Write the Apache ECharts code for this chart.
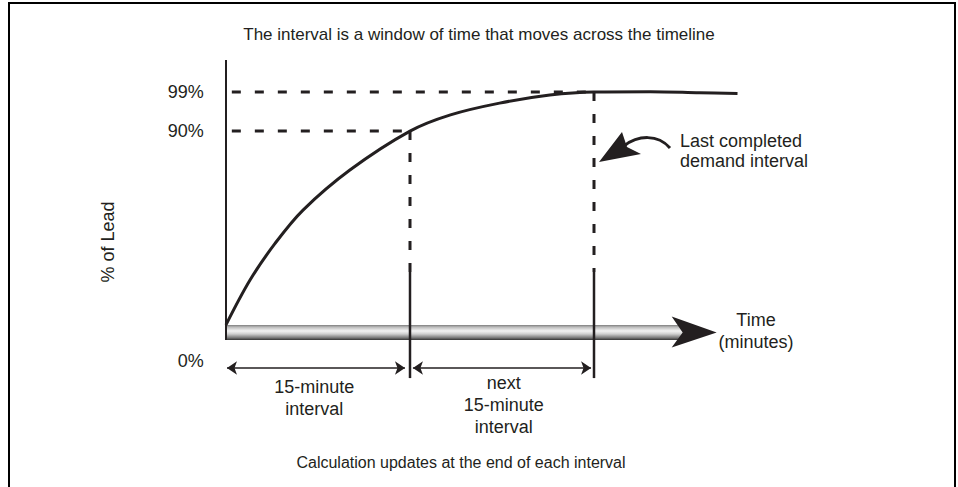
<!DOCTYPE html>
<html><head><meta charset="utf-8">
<script src="https://cdn.jsdelivr.net/npm/echarts@6/dist/echarts.min.js"></script>
<style>html,body{margin:0;padding:0;background:#fff}#c{width:958px;height:487px}</style>
</head><body><div id="c"></div>
<script>
// ---------------- data ----------------
const titleText = 'The interval is a window of time that moves across the timeline';
const footText = 'Calculation updates at the end of each interval';
const yAxisName = '% of Lead';
const xAxisName = 'Time\n(minutes)';
const noteText = 'Last completed\ndemand interval';

// curve: minutes vs drawn level (schematic height: 0 = bottom of time bar, 100 = top of axis)
const curveMinutes = [0, 1.96, 4.0, 6.28, 10.1, 15, 18.3, 22.3, 26.4, 30, 34.6, 38.6, 41.7];
const curveLevel   = [5.4, 21.4, 34.5, 46.4, 60.7, 74.6, 80.4, 84.6, 87.5, 88.6, 88.7, 88.3, 88.0];

// reference levels on the vertical axis
const refLabels  = ['99%', '90%'];
const refLevel   = [88.6, 74.6];
const refMinutes = [29.7, 14.7];
const guideStart = -1.4;
const zeroLabel  = '0%';
const zeroLevel  = -7.5;

// time bar (arrow)
const barStart = 0, barTip = 40, barLow = 0, barHigh = 5.4;

// interval boundaries
const boundaryMinutes   = [15, 30];
const boundaryDashTop   = [74.6, 88.6];
const boundaryDashBottom = 24.3;
const boundarySolidBottom = -13.6;

// interval spans
const intervalStart = [0.08, 15.24];
const intervalEnd   = [14.59, 29.76];
const intervalLevel = -10;
const intervalLabels = ['15-minute\ninterval', 'next\n15-minute\ninterval'];
const intervalLabelMinutes = [7.2, 22.65];
const intervalLabelLevel   = [-20.7, -23.2];

// ---------------- chart ----------------
const FONT = '"Liberation Sans", Arial, Helvetica, sans-serif';
const INK = '#231f20';
const chart = echarts.init(document.getElementById('c'), null, {renderer: 'svg'});

const series = [];

// time bar with arrow head
series.push({
  type: 'custom', silent: true, clip: false, z: 1,
  encode: {x: [0, 1], y: [2, 3]},
  data: [[barStart, barTip, barLow, barHigh]],
  renderItem: function (params, api) {
    const p0 = api.coord([api.value(0), api.value(2)]);
    const p1 = api.coord([api.value(1), api.value(3)]);
    const x0 = p0[0], yb = p0[1], yt = p1[1], tip = p1[0];
    const mid = (yb + yt) / 2;
    return {
      type: 'group',
      children: [
        {type: 'rect', shape: {x: x0, y: yt, width: tip - 34 - x0, height: yb - yt},
         style: {fill: {type: 'linear', x: 0, y: 0, x2: 0, y2: 1, colorStops: [
           {offset: 0, color: '#7a7a7a'}, {offset: 0.15, color: '#bcbcbc'},
           {offset: 0.4, color: '#f4f4f4'}, {offset: 0.6, color: '#d0d0d0'},
           {offset: 0.85, color: '#7a7a7a'}, {offset: 1, color: '#333333'}]}}},
        {type: 'polygon', shape: {points: [[tip - 45, mid - 16], [tip, mid], [tip - 45, mid + 15], [tip - 34, mid]]},
         style: {fill: INK}}
      ]
    };
  }
});

// vertical axis line
series.push({type: 'line', silent: true, symbol: 'none', data: [[0, 0], [0, 100]],
  lineStyle: {color: INK, width: 2}});

// horizontal dashed guides
refLevel.forEach((lv, i) => {
  series.push({type: 'line', silent: true, symbol: 'none', clip: false,
    data: [[guideStart, lv], [refMinutes[i], lv]],
    lineStyle: {color: INK, width: 3, type: [9, 14]}});
});

// boundaries: dashed part + solid part
boundaryMinutes.forEach((m, i) => {
  series.push({type: 'line', silent: true, symbol: 'none', clip: false,
    data: [[m, boundaryDashTop[i]], [m, boundaryDashBottom]],
    lineStyle: {color: INK, width: 3, type: [9, 13]}});
  series.push({type: 'line', silent: true, symbol: 'none', clip: false,
    data: [[m, boundaryDashBottom], [m, boundarySolidBottom]],
    lineStyle: {color: INK, width: 2.5}});
});

// the curve
series.push({type: 'line', silent: true, symbol: 'none', smooth: 0.35, clip: false,
  data: curveMinutes.map((m, i) => [m, curveLevel[i]]),
  lineStyle: {color: INK, width: 3}});

// interval double arrows
series.push({type: 'lines', coordinateSystem: 'cartesian2d', silent: true,
  symbol: ['arrow', 'arrow'], symbolSize: 10,
  lineStyle: {color: INK, width: 1.5, opacity: 1},
  data: intervalStart.map((s, i) => ({coords: [[s, intervalLevel], [intervalEnd[i], intervalLevel]]}))});

// text labels placed by data coordinates
const labelData = [];
refLevel.forEach((lv, i) => labelData.push({name: refLabels[i], value: [guideStart, lv],
  label: {position: 'left', distance: 5}}));
labelData.push({name: zeroLabel, value: [guideStart, zeroLevel], label: {position: 'left', distance: 5}});
intervalLabels.forEach((t, i) => labelData.push({name: t, value: [intervalLabelMinutes[i], intervalLabelLevel[i]],
  label: {position: 'inside', align: 'center', lineHeight: 22}}));
series.push({type: 'scatter', silent: true, clip: false, symbol: 'circle', symbolSize: 0,
  itemStyle: {color: INK, opacity: 1},
  label: {show: true, formatter: '{b}', color: INK, opacity: 1, fontSize: 18, fontFamily: FONT},
  labelLayout: {hideOverlap: false},
  data: labelData});

chart.setOption({
  animation: false,
  backgroundColor: '#ffffff',
  title: {text: titleText, left: 'center', top: 21,
    textStyle: {fontSize: 17, fontWeight: 'normal', color: INK, fontFamily: FONT}},
  grid: {left: 226, right: 180, top: 60, bottom: 7},
  xAxis: {type: 'value', min: 0, max: 45, show: false},
  yAxis: {type: 'value', min: -50, max: 100, show: false},
  series: series,
  graphic: [
    {type: 'rect', silent: true, shape: {x: 9, y: 3, width: 946, height: 500},
     style: {fill: 'none', stroke: '#000', lineWidth: 2}},
    {type: 'text', silent: true, x: 108, y: 242, rotation: Math.PI / 2,
     style: {text: yAxisName, fontSize: 18, fontFamily: FONT, fill: INK, align: 'center', verticalAlign: 'middle'}},
    {type: 'text', silent: true, x: 756, y: 331,
     style: {text: xAxisName, fontSize: 18, fontFamily: FONT, fill: INK, align: 'center', verticalAlign: 'middle', lineHeight: 22}},
    {type: 'text', silent: true, x: 680, y: 151,
     style: {text: noteText, fontSize: 18, fontFamily: FONT, fill: INK, align: 'left', verticalAlign: 'middle', lineHeight: 20}},
    {type: 'text', silent: true, x: 461, y: 462,
     style: {text: footText, fontSize: 16, fontFamily: FONT, fill: INK, align: 'center', verticalAlign: 'middle'}},
    {type: 'bezierCurve', silent: true,
     shape: {x1: 670, y1: 148, cpx1: 658, cpy1: 134, cpx2: 638, cpy2: 135, x2: 624, y2: 146},
     style: {stroke: INK, lineWidth: 3, fill: 'none'}},
    {type: 'polygon', silent: true,
     shape: {points: [[599, 162], [622, 132], [627, 147], [641, 154]]},
     style: {fill: INK}}
  ]
});
</script>
</body></html>
